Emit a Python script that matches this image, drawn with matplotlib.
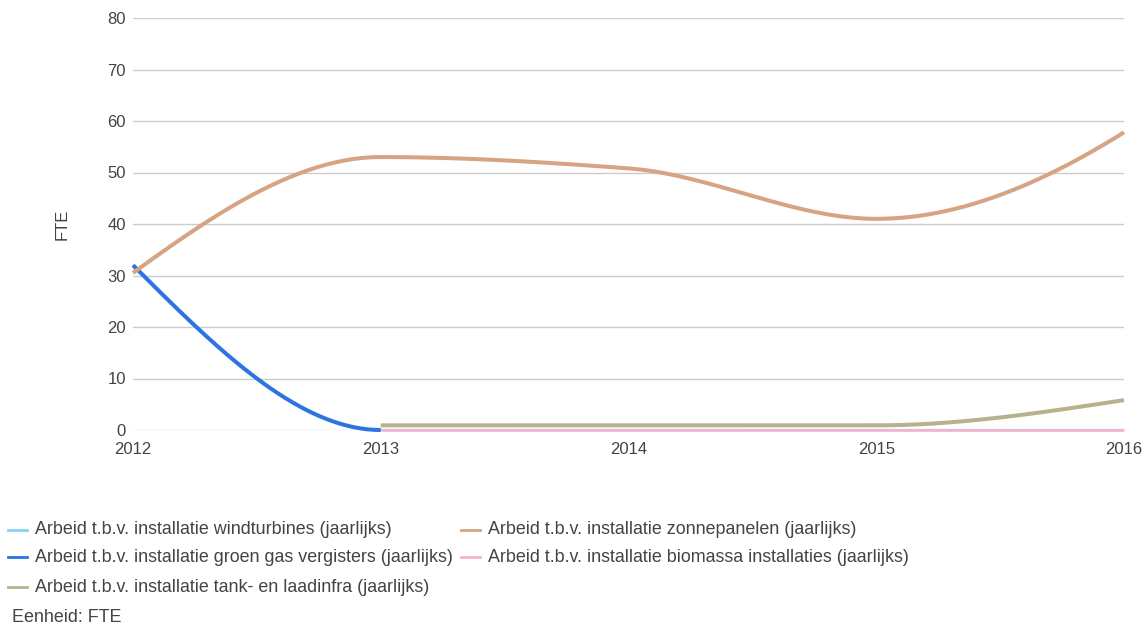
import numpy as np
import matplotlib
matplotlib.use("Agg")
import matplotlib.pyplot as plt
from matplotlib.lines import Line2D

plt.rcParams['font.family'] = ['Liberation Sans', 'DejaVu Sans']

years = [2012, 2013, 2014, 2015, 2016]

windturbines = [np.nan, 0, 0, 0, 0]
groen_gas = [32, 0, np.nan, np.nan, np.nan]
zonnepanelen = [30.5, 53, 50.8, 41, 57.8]
biomassa = [np.nan, 0, 0, 0, 0]
tank_laadinfra = [np.nan, 0.9, 0.9, 0.9, 5.8]

labels = [
    "Arbeid t.b.v. installatie windturbines (jaarlijks)",
    "Arbeid t.b.v. installatie groen gas vergisters (jaarlijks)",
    "Arbeid t.b.v. installatie zonnepanelen (jaarlijks)",
    "Arbeid t.b.v. installatie biomassa installaties (jaarlijks)",
    "Arbeid t.b.v. installatie tank- en laadinfra (jaarlijks)",
]
colors = ["#86d2f5", "#2d74e0", "#d6a383", "#f5b3cd", "#b6b28b"]
widths = [1.6, 2.9, 2.9, 1.9, 2.9]

TXT = '#444444'
FS_TICK = 12
FS_LEG = 12.9


def pchip(x, y, n=200):
    """Monotone cubic (Fritsch-Carlson) curve through the valid points."""
    x = np.asarray(x, float)
    y = np.asarray(y, float)
    ok = ~np.isnan(y)
    x, y = x[ok], y[ok]
    h = np.diff(x)
    delta = np.diff(y) / h
    d = np.zeros_like(y)
    for k in range(1, len(y) - 1):
        if delta[k - 1] * delta[k] > 0:
            w1 = 2 * h[k] + h[k - 1]
            w2 = h[k] + 2 * h[k - 1]
            d[k] = (w1 + w2) / (w1 / delta[k - 1] + w2 / delta[k])

    def end_slope(h0, h1, d0, d1):
        s = ((2 * h0 + h1) * d0 - h0 * d1) / (h0 + h1)
        if np.sign(s) != np.sign(d0):
            s = 0.0
        elif np.sign(d0) != np.sign(d1) and abs(s) > 3 * abs(d0):
            s = 3 * d0
        return s

    if len(y) > 2:
        d[0] = end_slope(h[0], h[1], delta[0], delta[1])
        d[-1] = end_slope(h[-1], h[-2], delta[-1], delta[-2])
    else:
        # two-point series: leave steeply, ease into the last point
        d[0] = 1.5 * delta[0]
        d[-1] = 0.0

    xs = np.linspace(x[0], x[-1], n)
    idx = np.clip(np.searchsorted(x, xs) - 1, 0, len(x) - 2)
    t = (xs - x[idx]) / h[idx]
    h00 = 2 * t**3 - 3 * t**2 + 1
    h10 = t**3 - 2 * t**2 + t
    h01 = -2 * t**3 + 3 * t**2
    h11 = t**3 - t**2
    ys = (h00 * y[idx] + h10 * h[idx] * d[idx]
          + h01 * y[idx + 1] + h11 * h[idx] * d[idx + 1])
    return xs, ys


W, H = 1147, 627
fig = plt.figure(figsize=(W / 100, H / 100), dpi=100)
ax = fig.add_axes([133 / W, 1 - 430 / H, 991 / W, 412 / H])

series = [windturbines, groen_gas, zonnepanelen, biomassa, tank_laadinfra]
for vals, col, lw in zip(series, colors, widths):
    xs, ys = pchip(years, vals)
    # lines sitting on zero must not be cut in half by the axes edge
    ax.plot(xs, ys, color=col, lw=lw, solid_capstyle='butt', zorder=3,
            clip_on=False)

ax.set_xlim(2012, 2016)
ax.set_ylim(0, 80)
ax.set_xticks(years)
ax.set_xticklabels([str(y) for y in years])
ax.set_yticks(np.arange(0, 81, 10))
ax.grid(axis='y', color='#cccccc', lw=1)
ax.set_axisbelow(True)
for s in ax.spines.values():
    s.set_visible(False)
ax.tick_params(axis='both', length=0, labelsize=FS_TICK, colors=TXT)
ax.tick_params(axis='x', pad=9)
ax.tick_params(axis='y', pad=5)
ax.set_ylabel("FTE", fontsize=FS_TICK, color=TXT)
ax.yaxis.set_label_coords(-0.0636, 0.5)

# legend, two columns: wind / groen gas / tank left, zon / biomassa right
slots = [(8, 530), (8, 557), (461, 530), (461, 557), (8, 587)]
for (px, py), lab, col in zip(slots, labels, colors):
    fy = 1 - py / H
    fig.add_artist(Line2D([px / W, (px + 19) / W], [fy, fy],
                          color=col, lw=2, transform=fig.transFigure))
    fig.text((px + 27) / W, fy, lab, fontsize=FS_LEG, color=TXT,
             ha='left', va='center')

fig.text(12 / W, 1 - 618 / H, "Eenheid: FTE", fontsize=FS_LEG, color=TXT,
         ha='left', va='center')

fig.savefig("out.png", dpi=100)
